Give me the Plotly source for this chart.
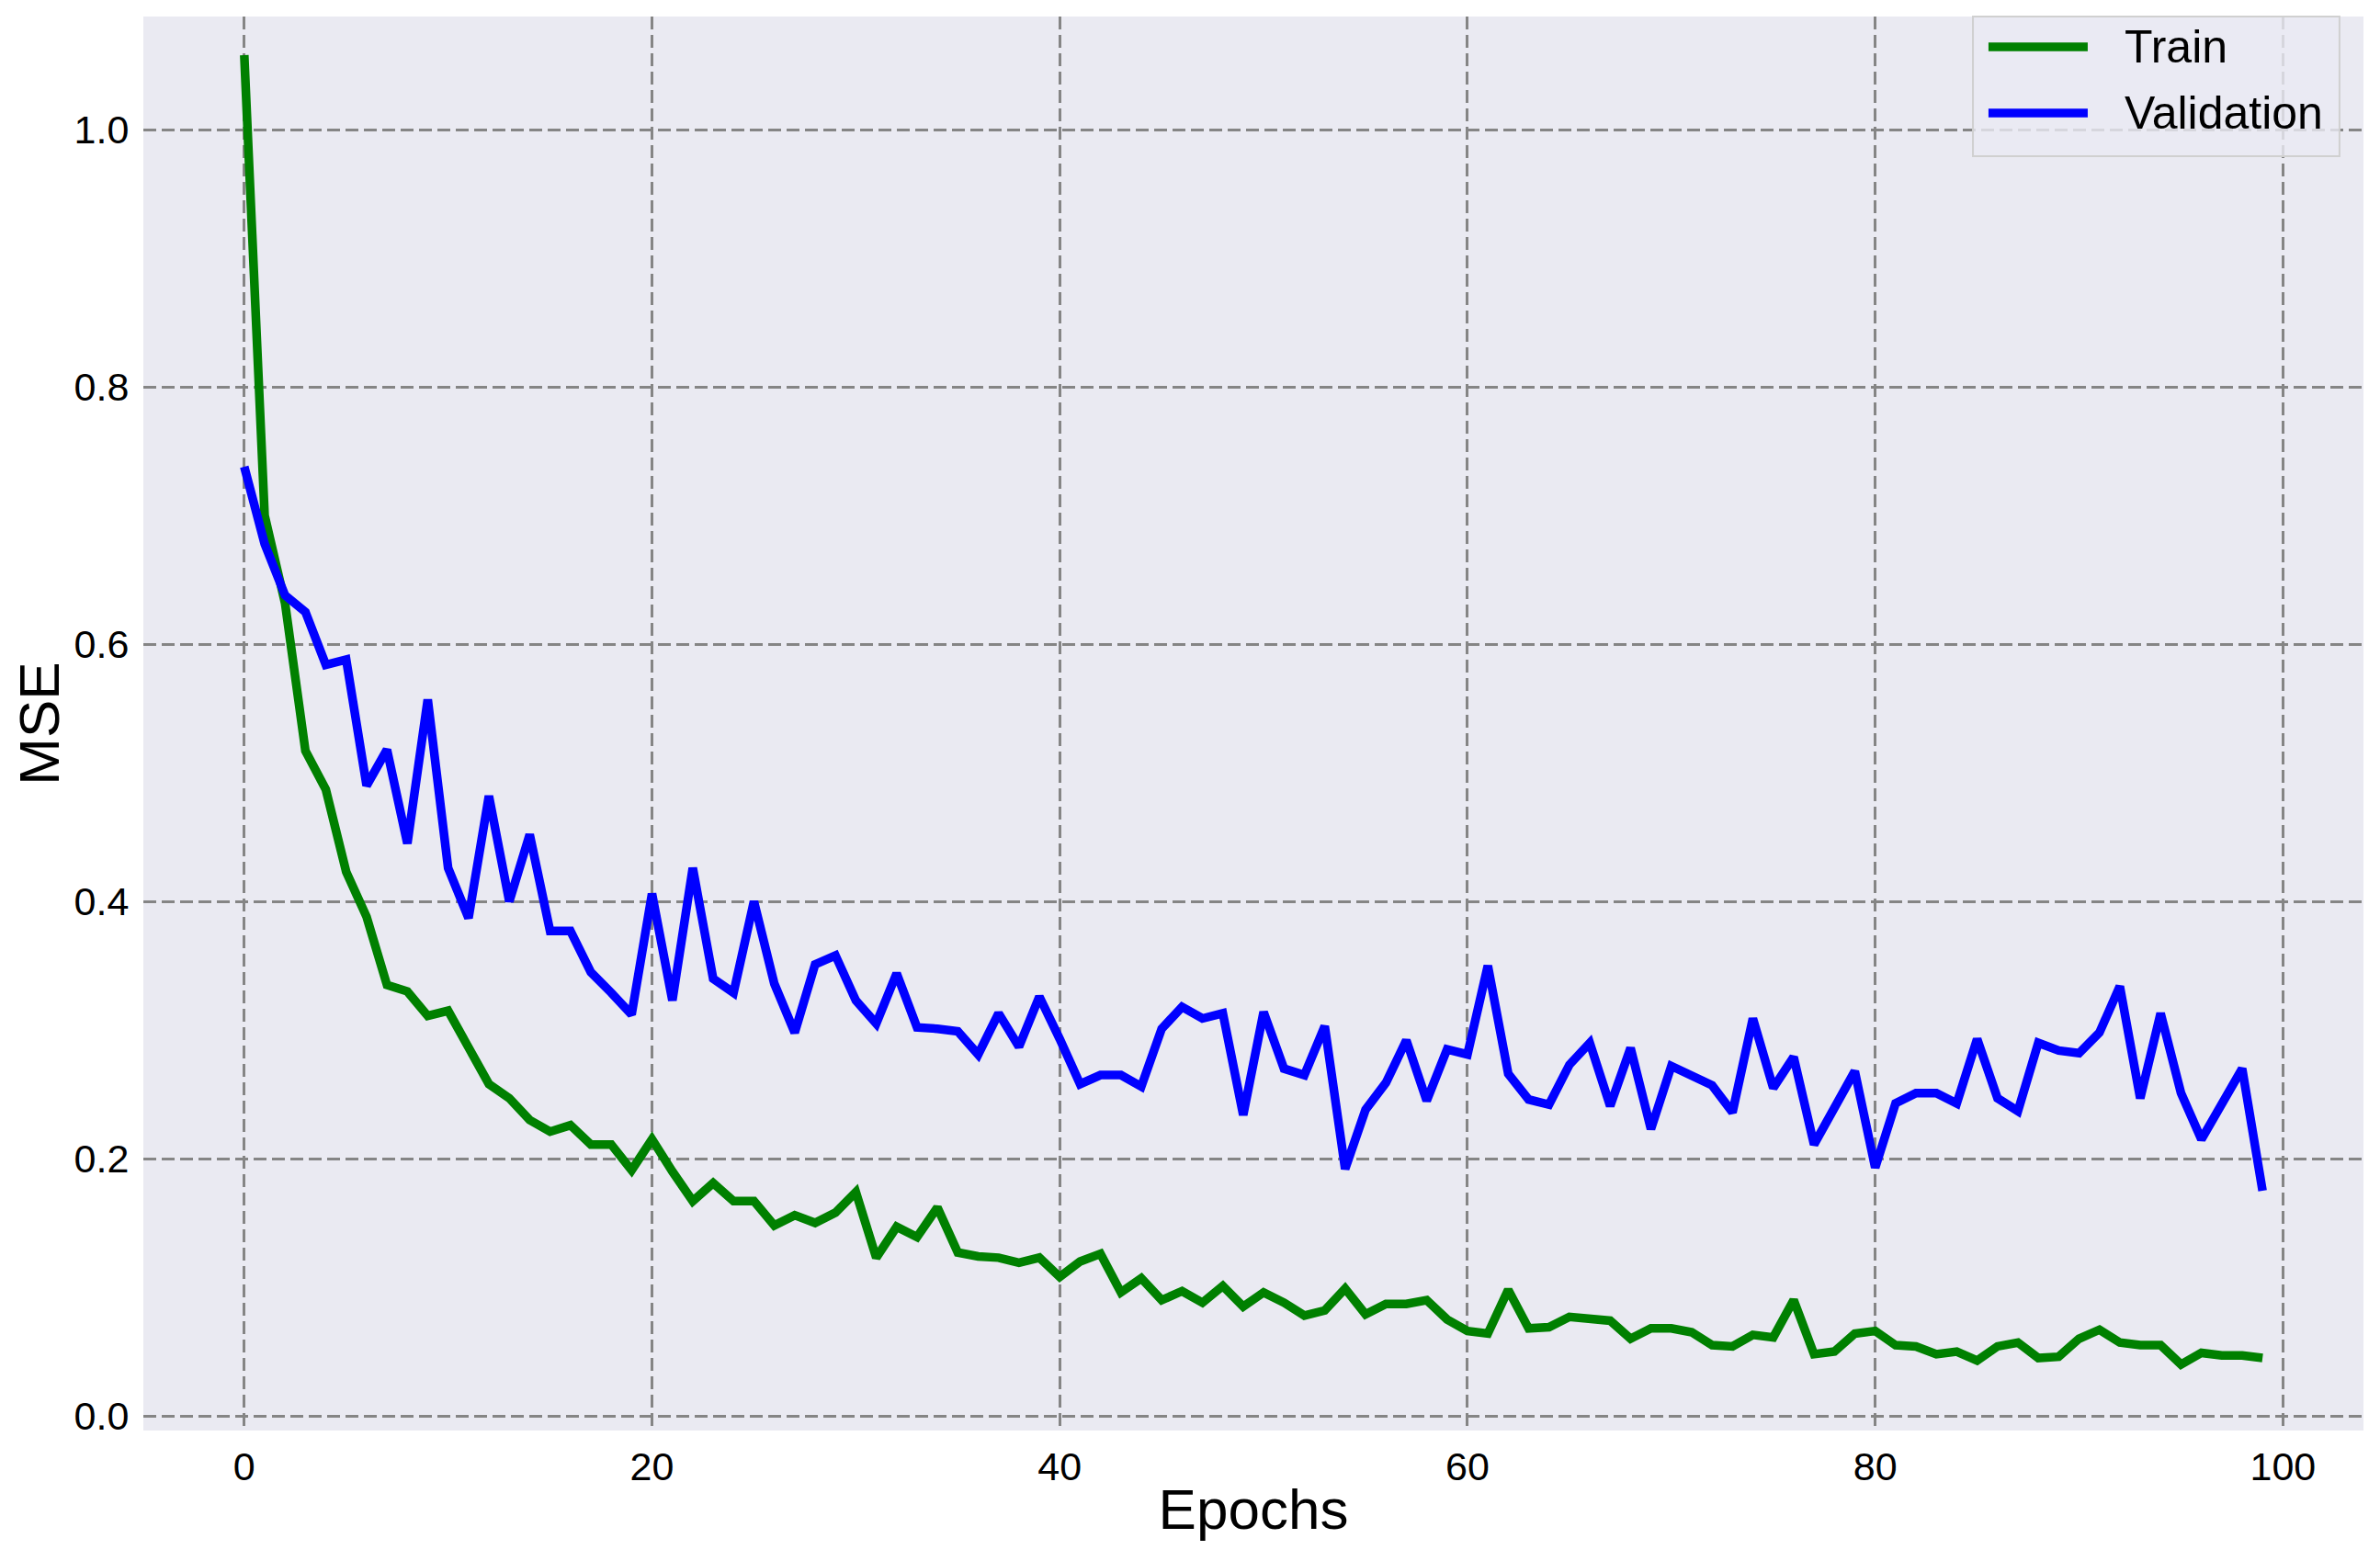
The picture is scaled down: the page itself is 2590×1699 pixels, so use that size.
import plotly.graph_objects as go

epochs = list(range(100))

train_mse = [
    1.058, 0.700, 0.632, 0.517, 0.487, 0.423, 0.388, 0.335, 0.330, 0.311,
    0.315, 0.286, 0.258, 0.247, 0.230, 0.221, 0.226, 0.211, 0.211, 0.191,
    0.215, 0.190, 0.167, 0.181, 0.167, 0.167, 0.148, 0.156, 0.150, 0.158,
    0.174, 0.123, 0.147, 0.139, 0.162, 0.127, 0.124, 0.123, 0.119, 0.123,
    0.108, 0.120, 0.126, 0.096, 0.107, 0.090, 0.097, 0.088, 0.101, 0.085,
    0.096, 0.088, 0.078, 0.082, 0.099, 0.079, 0.087, 0.087, 0.090, 0.075,
    0.066, 0.064, 0.098, 0.068, 0.069, 0.077, 0.076, 0.074, 0.060, 0.068,
    0.068, 0.065, 0.055, 0.054, 0.063, 0.061, 0.090, 0.048, 0.050, 0.064,
    0.066, 0.055, 0.054, 0.048, 0.050, 0.043, 0.054, 0.057, 0.045, 0.046,
    0.060, 0.067, 0.057, 0.055, 0.055, 0.040, 0.049, 0.047, 0.047, 0.045,
]

val_mse = [
    0.738, 0.678, 0.638, 0.625, 0.584, 0.588, 0.490, 0.518, 0.445, 0.557,
    0.426, 0.387, 0.482, 0.400, 0.452, 0.377, 0.377, 0.345, 0.329, 0.312,
    0.406, 0.323, 0.426, 0.340, 0.329, 0.400, 0.336, 0.298, 0.351, 0.358,
    0.323, 0.305, 0.344, 0.302, 0.301, 0.299, 0.281, 0.313, 0.287, 0.326,
    0.293, 0.258, 0.265, 0.265, 0.256, 0.301, 0.318, 0.309, 0.313, 0.234,
    0.314, 0.270, 0.265, 0.303, 0.192, 0.238, 0.259, 0.292, 0.245, 0.285,
    0.281, 0.350, 0.266, 0.246, 0.242, 0.273, 0.290, 0.241, 0.286, 0.223,
    0.272, 0.265, 0.257, 0.236, 0.309, 0.255, 0.279, 0.211, 0.241, 0.268,
    0.193, 0.243, 0.251, 0.251, 0.243, 0.293, 0.247, 0.237, 0.290, 0.284,
    0.282, 0.298, 0.334, 0.247, 0.313, 0.251, 0.215, 0.241, 0.270, 0.175,
]

series_names = ["Train", "Validation"]
series_colors = ["#008000", "#0000FF"]

x_ticks = [0, 20, 40, 60, 80, 100]
y_ticks = [0.0, 0.2, 0.4, 0.6, 0.8, 1.0]
y_tick_labels = ["0.0", "0.2", "0.4", "0.6", "0.8", "1.0"]

FONT = "Liberation Sans, Arial, sans-serif"
LW = 9.5
TICK_SIZE = 43

fig = go.Figure()
for name, ys, col in zip(series_names, [train_mse, val_mse], series_colors):
    fig.add_trace(go.Scatter(x=epochs, y=ys, mode="lines", name=name,
                             line=dict(color=col, width=LW), showlegend=False))

grid = dict(showgrid=True, gridcolor="#858585", gridwidth=3, griddash="14px,6px",
            zeroline=False, showline=False, automargin=False)

# Legend drawn in the upper right corner (paper coordinates)
shapes = [dict(type="rect", xref="paper", yref="paper", x0=0.8241, x1=0.9892, y0=0.9012, y1=1.0,
               fillcolor="rgba(234,234,242,0.8)", line=dict(color="#d0d0d0", width=2), layer="above")]
annotations = []
row_y = [0.9786, 0.9318]
for name, col, yy in zip(series_names, series_colors, row_y):
    shapes.append(dict(type="line", xref="paper", yref="paper", x0=0.8311, x1=0.8758, y0=yy, y1=yy,
                       line=dict(color=col, width=LW), layer="above"))
    annotations.append(dict(xref="paper", yref="paper", x=0.8916, y=yy, xanchor="left", yanchor="middle",
                            text=name, showarrow=False, font=dict(size=50, family=FONT, color="black")))

fig.update_layout(
    width=2574, height=1683,
    margin=dict(l=148, r=10, t=10, b=134),
    paper_bgcolor="white",
    plot_bgcolor="#EAEAF2",
    font=dict(family=FONT, color="black"),
    showlegend=False,
    shapes=shapes,
    annotations=annotations,
    xaxis=dict(range=[-4.95, 103.95], tickmode="array", tickvals=x_ticks,
               ticks="outside", ticklen=1, tickcolor="rgba(0,0,0,0)",
               tickfont=dict(size=TICK_SIZE, family=FONT, color="black"),
               title=dict(text="Epochs", font=dict(size=62, family=FONT, color="black"), standoff=2),
               **grid),
    yaxis=dict(range=[-0.0114, 1.088], tickmode="array", tickvals=y_ticks, ticktext=y_tick_labels,
               ticks="outside", ticklen=6, tickcolor="rgba(0,0,0,0)",
               tickfont=dict(size=TICK_SIZE, family=FONT, color="black"),
               title=dict(text="MSE", font=dict(size=62, family=FONT, color="black"), standoff=8),
               **grid),
)

fig.write_html("out.html")
